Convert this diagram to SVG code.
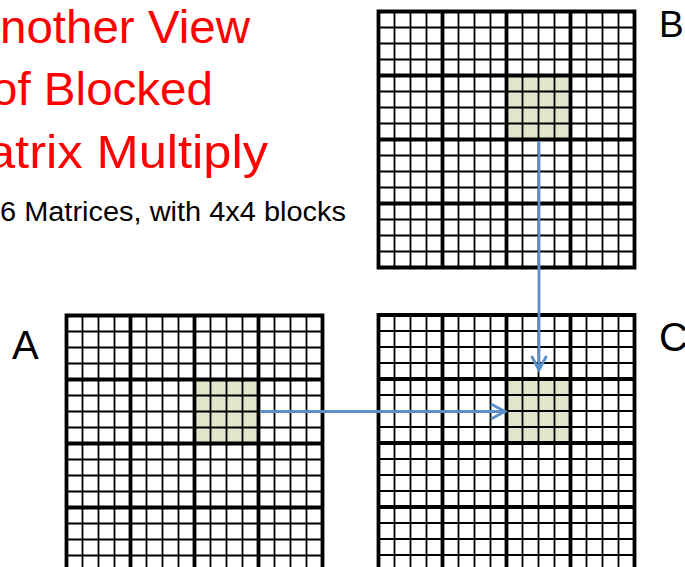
<svg xmlns="http://www.w3.org/2000/svg" width="685" height="567" viewBox="0 0 685 567">
  <style>
    .title { font-family: "Liberation Sans", Arial, sans-serif; font-size: 46px; fill: #ff0000; }
    .sub { font-family: "Liberation Sans", Arial, sans-serif; font-size: 27px; fill: #000; }
    .lbl { font-family: "Liberation Sans", Arial, sans-serif; font-size: 40px; fill: #000; }
    .hl { fill: #dfe6cc; }
    .thin { fill: none; stroke: #000; stroke-width: 1.8; }
    .thick { fill: none; stroke: #000; stroke-width: 3.8; stroke-linecap: square; }
    .conn { fill: none; stroke: #5b8fca; stroke-width: 2.8; }
  </style>
  <defs>
    <g id="grid">
      <path class="thin" d="M16 0V256M32 0V256M48 0V256M80 0V256M96 0V256M112 0V256M144 0V256M160 0V256M176 0V256M208 0V256M224 0V256M240 0V256M0 16H256M0 32H256M0 48H256M0 80H256M0 96H256M0 112H256M0 144H256M0 160H256M0 176H256M0 208H256M0 224H256M0 240H256"/>
      <path class="thick" d="M0 0V256M64 0V256M128 0V256M192 0V256M256 0V256M0 0H256M0 64H256M0 128H256M0 192H256M0 256H256"/>
    </g>
    <marker id="arr" markerUnits="userSpaceOnUse" markerWidth="20" markerHeight="20" viewBox="-16 -10 20 20" refX="0" refY="0" orient="auto">
      <path d="M-14 -7.5L0 0L-14 7.5" fill="none" stroke="#5b8fca" stroke-width="2.8" stroke-linejoin="miter"/>
    </marker>
  </defs>

  <g id="title">
    <text class="title" x="0" y="43" textLength="250" lengthAdjust="spacingAndGlyphs">nother View</text>
    <text class="title" x="-9" y="105" textLength="222" lengthAdjust="spacingAndGlyphs">of Blocked</text>
    <text class="title" x="-13" y="168" textLength="281" lengthAdjust="spacingAndGlyphs">atrix Multiply</text>
    <text class="sub" x="0" y="221" textLength="346" lengthAdjust="spacingAndGlyphs">6 Matrices, with 4x4 blocks</text>
  </g>

  <g id="matrixB">
    <rect class="hl" x="506.5" y="75.5" width="64" height="64"/>
    <use href="#grid" x="378.5" y="11.5"/>
    <text class="lbl" x="659" y="37" style="font-size:37px">B</text>
  </g>

  <g id="matrixA">
    <rect class="hl" x="194.5" y="379.5" width="64" height="64"/>
    <use href="#grid" x="66.5" y="315.5"/>
    <text class="lbl" x="12" y="359">A</text>
  </g>

  <g id="matrixC">
    <rect class="hl" x="506.5" y="379" width="64" height="64"/>
    <use href="#grid" x="378.5" y="315"/>
    <text class="lbl" x="659" y="351">C</text>
  </g>

  <g id="connectors">
    <line class="conn" x1="539" y1="141" x2="539" y2="370" marker-end="url(#arr)"/>
    <line class="conn" x1="260" y1="411.5" x2="505" y2="411.5" marker-end="url(#arr)"/>
  </g>
</svg>
